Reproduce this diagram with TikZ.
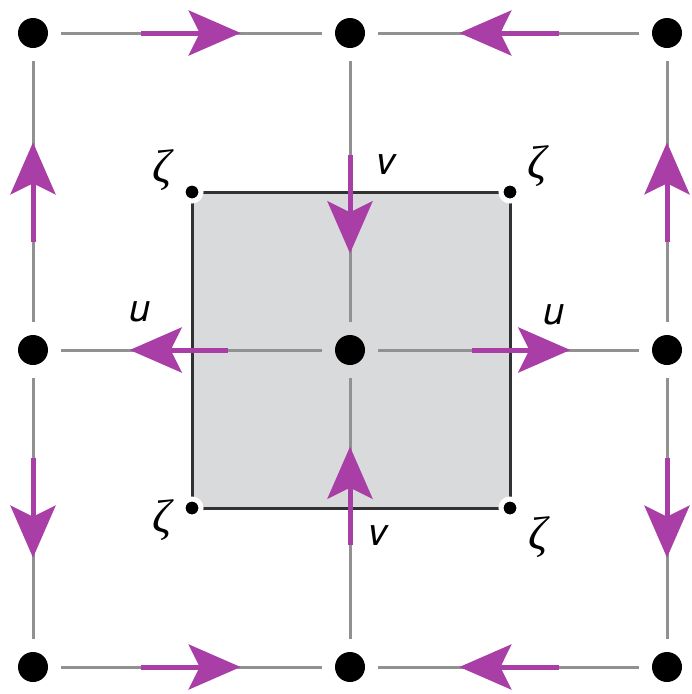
\documentclass[tikz,border=0pt]{standalone}
\usepackage{fontspec}
\setsansfont{TeX Gyre Heros}
\newfontfamily\greekfont{Liberation Serif}
\usetikzlibrary{calc,arrows.meta}
\definecolor{mypurple}{RGB}{168,62,166}
\definecolor{mygray}{RGB}{145,145,145}
\definecolor{myfill}{RGB}{217,218,220}
\definecolor{myedge}{RGB}{50,50,50}

\tikzset{
  site/.style={circle, fill=black, inner sep=0pt, minimum size=30pt},
  corner/.style={circle, fill=black, draw=white, line width=5pt, inner sep=0pt, minimum size=18pt},
  link/.style={mygray, line width=3pt, shorten <=13pt, shorten >=13pt},
  flow/.style={mypurple, line width=5pt, -{Stealth[length=52pt,width=45pt,inset=11pt]}},
  vel/.style={inner sep=0pt, font=\fontsize{38}{38}\sffamily\itshape},
  vort/.style={inner sep=0pt, font=\fontsize{47}{47}\greekfont\itshape}
}

\begin{document}
\begin{tikzpicture}[x=1pt,y=-1pt]
  \useasboundingbox (0,0) rectangle (692,694);
  % plaquette
  \coordinate (q1) at (192,192);
  \coordinate (q2) at (510,192);
  \coordinate (q3) at (510,508);
  \coordinate (q4) at (192,508);
  \fill[myfill] (q1) -- (q2) -- (q3) -- (q4) -- cycle;
  \draw[myedge, line width=3pt] (q1) -- (q2) -- (q3) -- (q4) -- cycle;
  % lattice sites
  \foreach \i/\x in {0/33,1/350,2/667}
    \foreach \j/\y in {0/33,1/350,2/667}
      \node[site] (s\i\j) at (\x,\y) {};
  \foreach \j in {0,1,2} {
    \draw[link] (s0\j) -- (s1\j);
    \draw[link] (s1\j) -- (s2\j);
    \draw[link] (s\j0) -- (s\j1);
    \draw[link] (s\j1) -- (s\j2);
  }
  % velocities on the links
  \foreach \a/\b/\p/\q in {s00/s10/.34/.655, s20/s10/.34/.655,
      s01/s00/.34/.655, s21/s20/.34/.655, s01/s02/.34/.655, s21/s22/.34/.655,
      s02/s12/.34/.655, s22/s12/.34/.655,
      s10/s11/.385/.695, s11/s01/.385/.695, s11/s21/.385/.695, s12/s11/.385/.695}
    \draw[flow] ($(\a)!\p!(\b)$) -- ($(\a)!\q!(\b)$);
  % vorticity points
  \foreach \k in {1,...,4}
    \node[corner] (z\k) at (q\k) {};
  \node[vort] (zl1) at (162,170) {ζ};
  \node[vort] (zl2) at (537,166) {ζ};
  \node[vort] (zl3) at (538,537) {ζ};
  \node[vort] (zl4) at (162,520) {ζ};
  \node[vel] (vt) at (386,165) {v};
  \node[vel] (vb) at (378,536) {v};
  \node[vel] (ul) at (140,312) {u};
  \node[vel] (ur) at (554,315) {u};
\end{tikzpicture}
\end{document}
